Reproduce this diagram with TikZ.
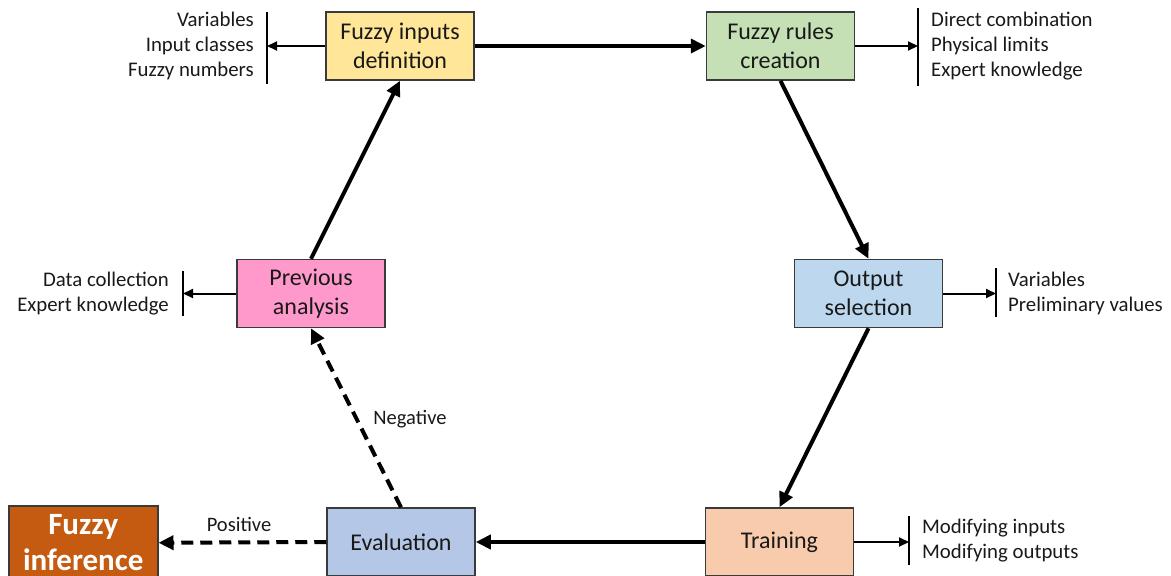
\documentclass[tikz,border=0pt]{standalone}
\usepackage{fontspec}
\setmainfont{Carlito}
\usetikzlibrary{arrows.meta}
\definecolor{cyellow}{HTML}{FFE699}
\definecolor{cgreen}{HTML}{C5E0B4}
\definecolor{cblue}{HTML}{BDD7EE}
\definecolor{corange}{HTML}{F8CBAD}
\definecolor{cslate}{HTML}{B4C7E7}
\definecolor{cpink}{HTML}{FF99CC}
\definecolor{cburnt}{HTML}{C55A11}
\definecolor{cborder}{HTML}{3A3A3A}
\tikzset{
  stage/.style={draw=cborder, line width=1.5pt, minimum width=148pt, minimum height=68pt,
    align=center, inner sep=0pt, font=\fontsize{24}{29}\selectfont, text=black!90},
  flow/.style={line width=4pt, -{Triangle[length=15pt,width=14pt]}},
  dflow/.style={flow, dash pattern=on 12pt off 7pt},
  side/.style={line width=2pt, -{Triangle[length=10pt,width=9pt]}},
  bar/.style={line width=2.5pt},
  notes/.style={align=left, anchor=west, inner sep=0pt, font=\fontsize{20.8}{25}\selectfont, text=black!90},
  rnotes/.style={notes, align=right, anchor=east},
  tag/.style={inner sep=0pt, font=\fontsize{20.5}{25}\selectfont, text=black!90}
}
\begin{document}
\begin{tikzpicture}[x=1pt, y=-1pt]
\useasboundingbox (0,0) rectangle (1171,576);
\clip (0,0) rectangle (1171,576);

% process stages
\node[stage, fill=cyellow] (fin) at (400,46) {Fuzzy inputs\\definition};
\node[stage, fill=cgreen] (frc) at (780.5,46) {Fuzzy rules\\creation};
\node[stage, fill=cblue] (osel) at (868.5,293.5) {Output\\selection};
\node[stage, fill=corange] (trn) at (779.5,542) {Training};
\node[stage, fill=cslate] (evl) at (401,542) {Evaluation};
\node[stage, fill=cpink] (prv) at (311,293.5) {Previous\\analysis};
\node[stage, fill=cburnt, draw=cborder, minimum width=149pt, minimum height=74pt,
  font=\fontsize{31}{36}\selectfont\bfseries, text=white, anchor=north west]
  (finf) at (8,505) {Fuzzy\\inference};

% main cycle
\draw[flow] (fin.east) -- (frc.west);
\draw[flow] (frc.south) -- (osel.north);
\draw[flow] (osel.south) -- (trn.north);
\draw[flow] (trn.west) -- (evl.east);
\draw[dflow] (evl.north) -- (prv.south);
\draw[flow] (prv.north) -- (fin.south);
\draw[dflow] (evl.west) -- (finf.east);

\node[tag] (neg) at (410,419) {Negative};
\node[tag] (pos) at (239,524) {Positive};

% side notes
\coordinate (bfin) at (267,46);
\draw[bar] (267,12) -- (267,84);
\draw[side] (fin.west) -- (bfin);
\node[rnotes] (nfin) at (254,46) {Variables\\Input classes\\Fuzzy numbers};

\coordinate (bfrc) at (918,46);
\draw[bar] (918,8) -- (918,86);
\draw[side] (frc.east) -- (bfrc);
\node[notes] (nfrc) at (931,46) {Direct combination\\Physical limits\\Expert knowledge};

\coordinate (bprv) at (183,293.5);
\draw[bar] (183,271) -- (183,316);
\draw[side] (prv.west) -- (bprv);
\node[rnotes] (nprv) at (169,293.5) {Data collection\\Expert knowledge};

\coordinate (bosel) at (996,293.5);
\draw[bar] (996,268) -- (996,317);
\draw[side] (osel.east) -- (bosel);
\node[notes] (nosel) at (1008,293.5) {Variables\\Preliminary values};

\coordinate (btrn) at (909,542);
\draw[bar] (909,516) -- (909,565);
\draw[side] (trn.east) -- (btrn);
\node[notes] (ntrn) at (922,541) {Modifying inputs\\Modifying outputs};
\end{tikzpicture}
\end{document}
